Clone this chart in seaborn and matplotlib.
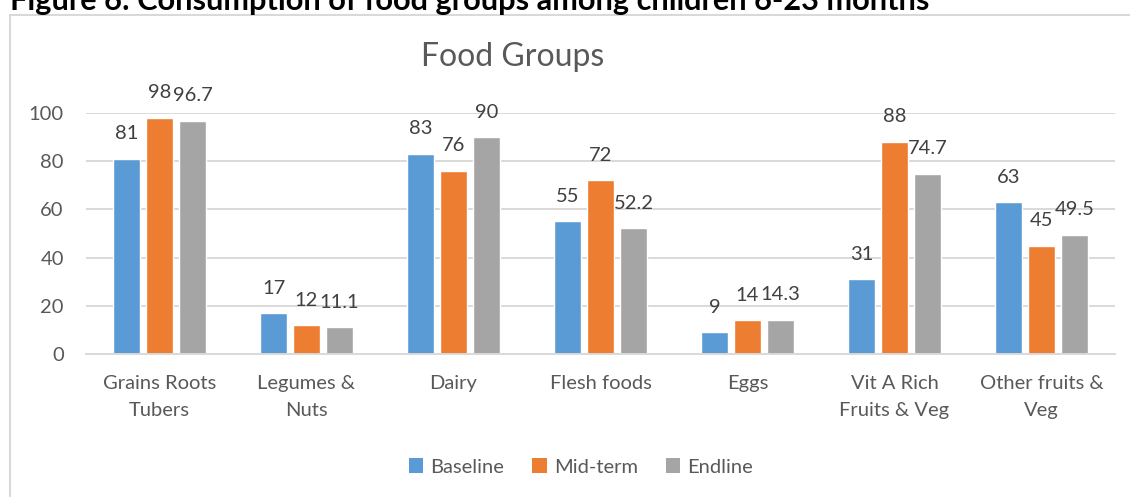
import matplotlib
matplotlib.use("Agg")
import matplotlib.pyplot as plt
from matplotlib.patches import Rectangle, Patch
import seaborn as sns
import pandas as pd

categories = ["Grains Roots\nTubers", "Legumes &\nNuts", "Dairy", "Flesh foods",
              "Eggs", "Vit A Rich\nFruits & Veg", "Other fruits &\nVeg"]
periods = ["Baseline", "Mid-term", "Endline"]
baseline = [81, 17, 83, 55, 9, 31, 63]
midterm = [98, 12, 76, 72, 14, 88, 45]
endline = [96.7, 11.1, 90, 52.2, 14.3, 74.7, 49.5]
colors = ["#5B9BD5", "#ED7D31", "#A5A5A5"]
y_ticks = [0, 20, 40, 60, 80, 100]

rows = []
for period, vals in zip(periods, [baseline, midterm, endline]):
    for cat, v in zip(categories, vals):
        rows.append({"group": cat, "period": period, "value": v})
df = pd.DataFrame(rows)

sns.set_theme(style="white")
plt.rcParams["font.family"] = ["Lato", "DejaVu Sans"]

W, H = 1130, 497
fig = plt.figure(figsize=(W / 100, H / 100), dpi=100)
ax = fig.add_axes([86 / W, 1 - 354 / H, (1115 - 86) / W, (354 - 113) / H])

sns.barplot(data=df, x="group", y="value", hue="period", hue_order=periods,
            order=categories, palette=colors, width=0.673, gap=0.21,
            saturation=1, legend=False, ax=ax)

ax.set_ylim(0, 100)
ax.set_xlim(-0.5, len(categories) - 0.5)
ax.set_yticks(y_ticks)
ax.set_yticklabels([str(t) for t in y_ticks])
ax.yaxis.grid(True, color="#D9D9D9", linewidth=1.4)
ax.set_axisbelow(True)
for side in ["top", "right", "left"]:
    ax.spines[side].set_visible(False)
ax.spines["bottom"].set_color("#D9D9D9")
ax.spines["bottom"].set_linewidth(1.4)
ax.tick_params(axis="both", length=0, labelsize=14.5, labelcolor="#595959")
ax.tick_params(axis="y", pad=16)
ax.tick_params(axis="x", pad=15)
for lab in ax.get_xticklabels():
    lab.set_linespacing(1.75)
ax.set_xlabel("")
ax.set_ylabel("")

# value labels above each bar
for container in ax.containers:
    for bar in container:
        v = bar.get_height()
        ax.annotate(f"{v:g}", (bar.get_x() + bar.get_width() / 2, v),
                    xytext=(0, 18), textcoords="offset points",
                    ha="center", va="center", fontsize=14.5,
                    color="#404040", annotation_clip=False)

# chart title
fig.text(513 / W, 1 - 66 / H, "Food Groups", ha="center", va="baseline",
         fontsize=23, color="#595959")

# legend
handles = [Patch(facecolor=c, edgecolor="none", label=p) for p, c in zip(periods, colors)]
fig.legend(handles=handles, loc="center", bbox_to_anchor=(581 / W, 1 - 467 / H),
           ncol=3, frameon=False, fontsize=14.5, handlelength=0.7, handleheight=0.7,
           handletextpad=0.35, columnspacing=1.4, labelcolor="#595959")

# chart frame
fig.add_artist(Rectangle((10 / W, -0.1), 2, 1 - 15 / H + 0.1, transform=fig.transFigure,
                         fill=False, edgecolor="#D9D9D9", linewidth=1.5))

# figure caption
cap = fig.text(10 / W, 1 - 10 / H, "Figure 6: Consumption of food groups among children 6-23 months",
               ha="left", va="baseline", fontsize=20, fontweight="bold", color="#000000")
fig.canvas.draw()
ext = cap.get_window_extent()
cap.set_fontsize(20 * (920 / ext.width))

fig.savefig("out.png", dpi=100)
